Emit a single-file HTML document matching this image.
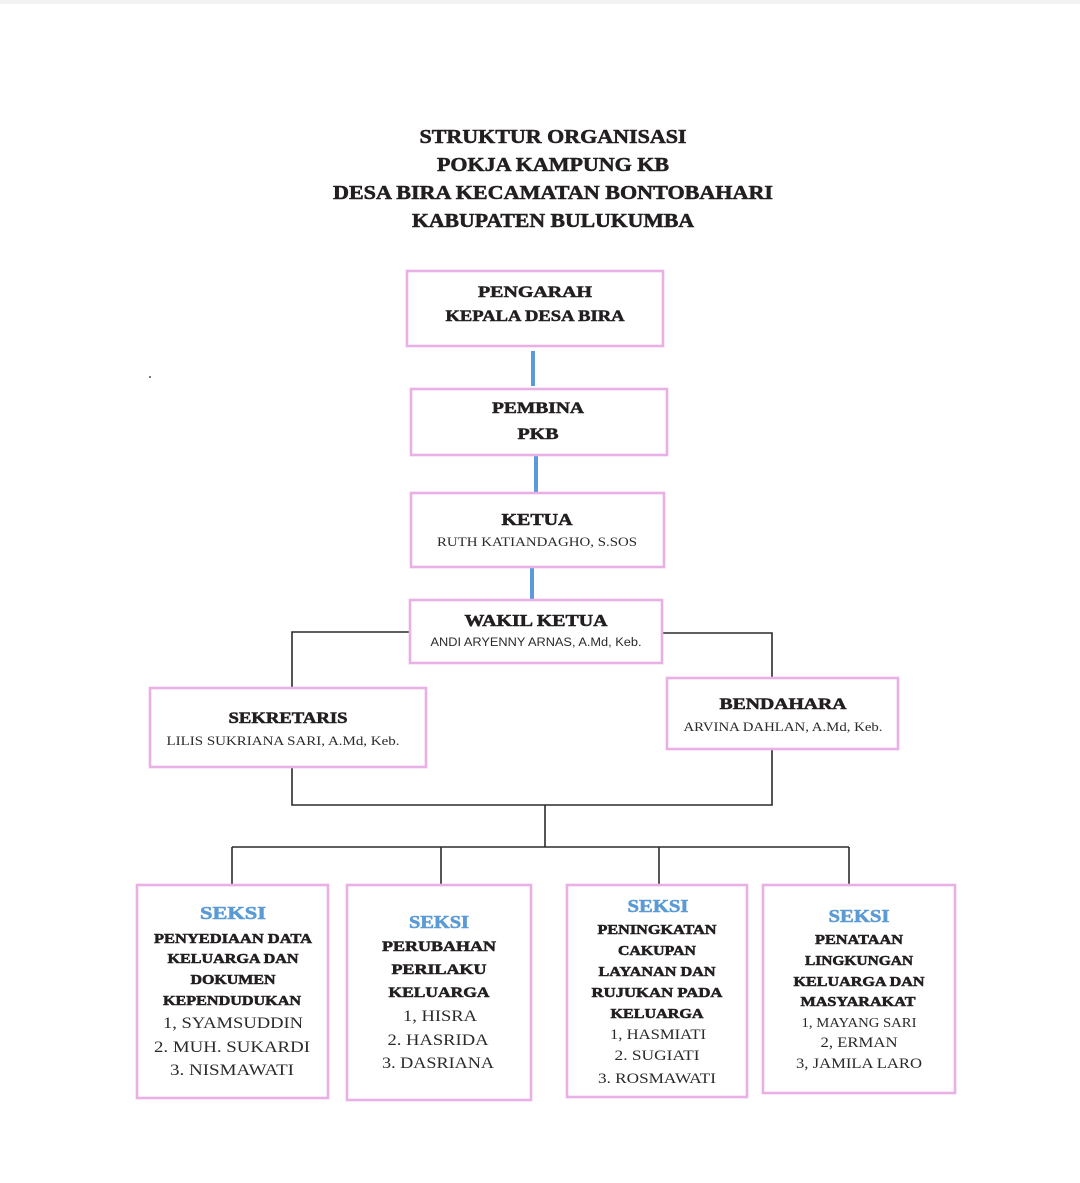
<!DOCTYPE html>
<html>
<head>
<meta charset="utf-8">
<style>
html,body{margin:0;padding:0;background:#fff;}
body{width:1080px;height:1183px;overflow:hidden;}
svg{display:block;}
.t{font-family:"Liberation Serif",serif;font-weight:bold;fill:#231f20;stroke:#231f20;stroke-width:0.55;text-anchor:middle;}
.r{font-family:"Liberation Serif",serif;font-weight:normal;fill:#2a2a2a;text-anchor:middle;}
.s{font-family:"Liberation Sans",sans-serif;font-weight:normal;fill:#2a2a2a;text-anchor:middle;}
.b{font-family:"Liberation Serif",serif;font-weight:bold;fill:#5b9bd5;stroke:#5b9bd5;stroke-width:0.6;text-anchor:middle;}
.box{fill:#fff;stroke:#e9b0e5;stroke-width:2.6;}
.ln{stroke:#2b2b2b;stroke-width:1.6;fill:none;}
.bl{stroke:#5a9ad8;stroke-width:4;}
</style>
</head>
<body>
<svg width="1080" height="1183" viewBox="0 0 1080 1183" xmlns="http://www.w3.org/2000/svg">
<rect x="0" y="0" width="1080" height="4" fill="#f2f2f2"/>

<!-- Title -->
<text class="t" x="553" y="143" font-size="20" textLength="267" lengthAdjust="spacingAndGlyphs">STRUKTUR ORGANISASI</text>
<text class="t" x="553" y="171" font-size="20" textLength="232" lengthAdjust="spacingAndGlyphs">POKJA KAMPUNG KB</text>
<text class="t" x="553" y="199" font-size="20" textLength="440" lengthAdjust="spacingAndGlyphs">DESA BIRA KECAMATAN BONTOBAHARI</text>
<text class="t" x="553" y="227" font-size="20" textLength="282" lengthAdjust="spacingAndGlyphs">KABUPATEN BULUKUMBA</text>

<circle cx="150" cy="377" r="1" fill="#555"/>

<!-- Blue connectors -->
<line class="bl" x1="533" y1="351" x2="533" y2="386"/>
<line class="bl" x1="536" y1="456" x2="536" y2="493"/>
<line class="bl" x1="532" y1="567" x2="532" y2="601"/>

<!-- Black connectors -->
<polyline class="ln" points="410,632 292,632 292,688"/>
<polyline class="ln" points="662,633 772,633 772,678"/>
<polyline class="ln" points="292,767 292,805 772,805 772,749"/>
<line class="ln" x1="545" y1="805" x2="545" y2="847"/>
<line class="ln" x1="232" y1="847" x2="849" y2="847"/>
<line class="ln" x1="232" y1="847" x2="232" y2="885"/>
<line class="ln" x1="441" y1="847" x2="441" y2="885"/>
<line class="ln" x1="659" y1="847" x2="659" y2="885"/>
<line class="ln" x1="849" y1="847" x2="849" y2="885"/>

<!-- PENGARAH -->
<rect class="box" x="407" y="271" width="256" height="75"/>
<text class="t" x="535" y="297" font-size="16" textLength="114" lengthAdjust="spacingAndGlyphs">PENGARAH</text>
<text class="t" x="535" y="321" font-size="16" textLength="179" lengthAdjust="spacingAndGlyphs">KEPALA DESA BIRA</text>

<!-- PEMBINA -->
<rect class="box" x="411" y="389" width="256" height="66"/>
<text class="t" x="538" y="413" font-size="16" textLength="92" lengthAdjust="spacingAndGlyphs">PEMBINA</text>
<text class="t" x="538" y="439" font-size="16" textLength="41" lengthAdjust="spacingAndGlyphs">PKB</text>

<!-- KETUA -->
<rect class="box" x="411" y="493" width="253" height="74"/>
<text class="t" x="537" y="525" font-size="17" textLength="71" lengthAdjust="spacingAndGlyphs">KETUA</text>
<text class="r" x="537" y="546" font-size="13" textLength="200" lengthAdjust="spacingAndGlyphs">RUTH KATIANDAGHO, S.SOS</text>

<!-- WAKIL KETUA -->
<rect class="box" x="410" y="600" width="252" height="63"/>
<text class="t" x="536" y="626" font-size="17" textLength="143" lengthAdjust="spacingAndGlyphs">WAKIL KETUA</text>
<text class="s" x="536" y="646" font-size="11.5" textLength="211" lengthAdjust="spacingAndGlyphs">ANDI ARYENNY ARNAS, A.Md, Keb.</text>

<!-- SEKRETARIS -->
<rect class="box" x="150" y="688" width="276" height="79"/>
<text class="t" x="288" y="723" font-size="16" textLength="119" lengthAdjust="spacingAndGlyphs">SEKRETARIS</text>
<text class="r" x="283" y="745" font-size="13" textLength="233" lengthAdjust="spacingAndGlyphs">LILIS SUKRIANA SARI, A.Md, Keb.</text>

<!-- BENDAHARA -->
<rect class="box" x="667" y="678" width="231" height="71"/>
<text class="t" x="783" y="709" font-size="16" textLength="127" lengthAdjust="spacingAndGlyphs">BENDAHARA</text>
<text class="r" x="783" y="731" font-size="13" textLength="199" lengthAdjust="spacingAndGlyphs">ARVINA DAHLAN, A.Md, Keb.</text>

<!-- SEKSI 1 -->
<rect class="box" x="137" y="885" width="191" height="213"/>
<text class="b" x="233" y="919" font-size="18" textLength="66" lengthAdjust="spacingAndGlyphs">SEKSI</text>
<text class="t" x="233" y="943" font-size="14" textLength="158" lengthAdjust="spacingAndGlyphs">PENYEDIAAN DATA</text>
<text class="t" x="233" y="963" font-size="14" textLength="131" lengthAdjust="spacingAndGlyphs">KELUARGA DAN</text>
<text class="t" x="233" y="984" font-size="14" textLength="85" lengthAdjust="spacingAndGlyphs">DOKUMEN</text>
<text class="t" x="232" y="1005" font-size="14" textLength="138" lengthAdjust="spacingAndGlyphs">KEPENDUDUKAN</text>
<text class="r" x="233" y="1028" font-size="16" textLength="140" lengthAdjust="spacingAndGlyphs">1, SYAMSUDDIN</text>
<text class="r" x="232" y="1052" font-size="16" textLength="156" lengthAdjust="spacingAndGlyphs">2. MUH. SUKARDI</text>
<text class="r" x="232" y="1075" font-size="16" textLength="124" lengthAdjust="spacingAndGlyphs">3. NISMAWATI</text>

<!-- SEKSI 2 -->
<rect class="box" x="347" y="885" width="184" height="215"/>
<text class="b" x="439" y="928" font-size="18" textLength="60" lengthAdjust="spacingAndGlyphs">SEKSI</text>
<text class="t" x="439" y="951" font-size="15" textLength="114" lengthAdjust="spacingAndGlyphs">PERUBAHAN</text>
<text class="t" x="439" y="974" font-size="15" textLength="95" lengthAdjust="spacingAndGlyphs">PERILAKU</text>
<text class="t" x="439" y="997" font-size="15" textLength="101" lengthAdjust="spacingAndGlyphs">KELUARGA</text>
<text class="r" x="440" y="1021" font-size="16" textLength="74" lengthAdjust="spacingAndGlyphs">1, HISRA</text>
<text class="r" x="438" y="1045" font-size="16" textLength="101" lengthAdjust="spacingAndGlyphs">2. HASRIDA</text>
<text class="r" x="438" y="1068" font-size="16" textLength="112" lengthAdjust="spacingAndGlyphs">3. DASRIANA</text>

<!-- SEKSI 3 -->
<rect class="box" x="567" y="885" width="180" height="212"/>
<text class="b" x="658" y="912" font-size="18" textLength="61" lengthAdjust="spacingAndGlyphs">SEKSI</text>
<text class="t" x="657" y="934" font-size="14" textLength="119" lengthAdjust="spacingAndGlyphs">PENINGKATAN</text>
<text class="t" x="657" y="955" font-size="14" textLength="78" lengthAdjust="spacingAndGlyphs">CAKUPAN</text>
<text class="t" x="657" y="976" font-size="14" textLength="117" lengthAdjust="spacingAndGlyphs">LAYANAN DAN</text>
<text class="t" x="657" y="997" font-size="14" textLength="131" lengthAdjust="spacingAndGlyphs">RUJUKAN PADA</text>
<text class="t" x="657" y="1018" font-size="14" textLength="93" lengthAdjust="spacingAndGlyphs">KELUARGA</text>
<text class="r" x="658" y="1039" font-size="15" textLength="96" lengthAdjust="spacingAndGlyphs">1, HASMIATI</text>
<text class="r" x="657" y="1060" font-size="15" textLength="85" lengthAdjust="spacingAndGlyphs">2. SUGIATI</text>
<text class="r" x="657" y="1083" font-size="15" textLength="118" lengthAdjust="spacingAndGlyphs">3. ROSMAWATI</text>

<!-- SEKSI 4 -->
<rect class="box" x="763" y="885" width="192" height="208"/>
<text class="b" x="859" y="922" font-size="18" textLength="61" lengthAdjust="spacingAndGlyphs">SEKSI</text>
<text class="t" x="859" y="944" font-size="14" textLength="88" lengthAdjust="spacingAndGlyphs">PENATAAN</text>
<text class="t" x="859" y="965" font-size="14" textLength="108" lengthAdjust="spacingAndGlyphs">LINGKUNGAN</text>
<text class="t" x="859" y="986" font-size="14" textLength="131" lengthAdjust="spacingAndGlyphs">KELUARGA DAN</text>
<text class="t" x="858" y="1006" font-size="14" textLength="115" lengthAdjust="spacingAndGlyphs">MASYARAKAT</text>
<text class="r" x="859" y="1027" font-size="13.5" textLength="115" lengthAdjust="spacingAndGlyphs">1, MAYANG SARI</text>
<text class="r" x="859" y="1047" font-size="15" textLength="77" lengthAdjust="spacingAndGlyphs">2, ERMAN</text>
<text class="r" x="859" y="1068" font-size="15" textLength="126" lengthAdjust="spacingAndGlyphs">3, JAMILA LARO</text>
</svg>
</body>
</html>
